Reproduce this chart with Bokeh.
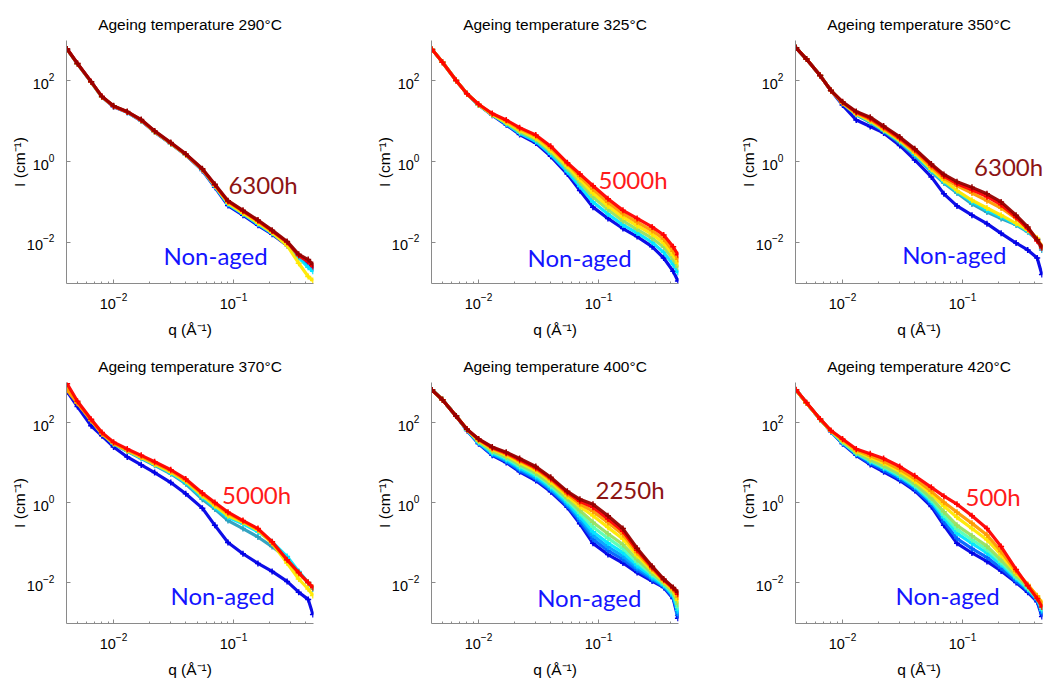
from bokeh.plotting import figure
from bokeh.models import Range1d, FixedTicker, Label
from bokeh.layouts import row, column
from bokeh.embed import file_html
from bokeh.resources import INLINE

# ---------------- data (log10 of I in cm^-1) ----------------
Q = [0.0041, 0.005, 0.0065, 0.008, 0.01, 0.013, 0.017, 0.022, 0.03, 0.04,
     0.055, 0.07, 0.09, 0.12, 0.16, 0.21, 0.28, 0.35, 0.42, 0.46]

# 290 C
T290_blue = [2.78, 2.42, 1.97, 1.60, 1.36, 1.22, 1.01, 0.73, 0.44, 0.16, -0.22, -0.64, -1.09, -1.33, -1.58, -1.80, -2.08, -2.36, -2.55, -2.65]
T290_cyan = [2.78, 2.42, 1.97, 1.60, 1.37, 1.22, 1.02, 0.74, 0.45, 0.17, -0.21, -0.62, -1.06, -1.30, -1.55, -1.78, -2.06, -2.38, -2.62, -2.72]
T290_yellow = [2.78, 2.42, 1.97, 1.60, 1.37, 1.23, 1.02, 0.74, 0.45, 0.17, -0.20, -0.60, -1.03, -1.28, -1.52, -1.76, -2.08, -2.52, -2.85, -2.95]
T290_red = [2.79, 2.43, 1.98, 1.61, 1.37, 1.23, 1.03, 0.75, 0.46, 0.18, -0.19, -0.58, -0.99, -1.23, -1.47, -1.72, -2.00, -2.33, -2.48, -2.60]
T290_darkred = [2.79, 2.43, 1.98, 1.61, 1.38, 1.24, 1.04, 0.76, 0.47, 0.19, -0.18, -0.56, -0.97, -1.21, -1.45, -1.70, -1.98, -2.30, -2.43, -2.55]

# 325 C
T325_blue = [2.78, 2.46, 2.01, 1.68, 1.40, 1.15, 0.91, 0.67, 0.46, 0.13, -0.31, -0.72, -1.13, -1.41, -1.66, -1.86, -2.11, -2.39, -2.72, -2.96]
T325_cyan = [2.78, 2.46, 2.01, 1.68, 1.40, 1.16, 0.93, 0.70, 0.50, 0.18, -0.25, -0.62, -1.00, -1.30, -1.57, -1.77, -2.00, -2.25, -2.55, -2.75]
T325_green = [2.78, 2.46, 2.01, 1.68, 1.41, 1.16, 0.96, 0.74, 0.55, 0.24, -0.17, -0.52, -0.88, -1.19, -1.47, -1.68, -1.90, -2.12, -2.42, -2.62]
T325_yellow = [2.78, 2.46, 2.01, 1.68, 1.41, 1.17, 0.98, 0.78, 0.59, 0.29, -0.11, -0.44, -0.78, -1.10, -1.38, -1.59, -1.80, -2.02, -2.32, -2.52]
T325_orange = [2.78, 2.46, 2.01, 1.68, 1.42, 1.18, 1.01, 0.81, 0.63, 0.34, -0.06, -0.37, -0.68, -1.01, -1.29, -1.50, -1.71, -1.92, -2.22, -2.42]
T325_red = [2.78, 2.46, 2.01, 1.68, 1.42, 1.19, 1.03, 0.84, 0.66, 0.38, -0.03, -0.31, -0.60, -0.92, -1.21, -1.41, -1.62, -1.82, -2.11, -2.31]

# 350 C
T350_blue = [2.82, 2.54, 2.13, 1.76, 1.40, 1.03, 0.87, 0.71, 0.40, 0.04, -0.38, -0.80, -1.10, -1.33, -1.54, -1.78, -2.02, -2.19, -2.39, -2.80]
T350_teal = [2.82, 2.54, 2.13, 1.76, 1.44, 1.16, 0.97, 0.75, 0.47, 0.14, -0.25, -0.53, -0.78, -1.05, -1.25, -1.41, -1.57, -1.74, -1.94, -2.19]
T350_cyan = [2.82, 2.54, 2.13, 1.76, 1.45, 1.17, 0.99, 0.77, 0.50, 0.18, -0.22, -0.50, -0.74, -1.00, -1.20, -1.37, -1.55, -1.72, -1.92, -2.15]
T350_yellow = [2.82, 2.54, 2.13, 1.76, 1.45, 1.18, 1.01, 0.79, 0.52, 0.21, -0.19, -0.47, -0.72, -0.96, -1.15, -1.33, -1.53, -1.70, -1.90, -2.11]
T350_orange = [2.82, 2.54, 2.13, 1.76, 1.46, 1.20, 1.04, 0.82, 0.55, 0.25, -0.14, -0.41, -0.60, -0.78, -0.97, -1.15, -1.41, -1.66, -1.92, -2.11]
T350_red = [2.82, 2.54, 2.13, 1.76, 1.47, 1.22, 1.07, 0.85, 0.58, 0.29, -0.09, -0.36, -0.55, -0.70, -0.87, -1.07, -1.38, -1.66, -1.97, -2.14]
T350_darkred = [2.82, 2.54, 2.13, 1.76, 1.48, 1.24, 1.10, 0.88, 0.61, 0.32, -0.06, -0.32, -0.50, -0.64, -0.80, -1.00, -1.33, -1.62, -1.94, -2.11]

# 370 C
T370_blue = [2.77, 2.40, 1.92, 1.67, 1.39, 1.14, 0.94, 0.75, 0.50, 0.22, -0.14, -0.57, -1.00, -1.28, -1.52, -1.72, -1.97, -2.24, -2.42, -2.80]
T370_teal = [2.85, 2.50, 2.05, 1.72, 1.46, 1.28, 1.10, 0.93, 0.72, 0.47, 0.08, -0.16, -0.45, -0.65, -0.86, -1.10, -1.39, -1.75, -2.00, -2.16]
T370_cyan = [2.85, 2.50, 2.06, 1.72, 1.47, 1.29, 1.12, 0.95, 0.74, 0.50, 0.13, -0.12, -0.37, -0.53, -0.73, -0.98, -1.35, -1.72, -2.00, -2.14]
T370_yellow = [2.85, 2.50, 2.06, 1.73, 1.48, 1.30, 1.13, 0.96, 0.76, 0.53, 0.17, -0.08, -0.33, -0.49, -0.69, -1.02, -1.51, -1.91, -2.16, -2.32]
T370_orange = [2.81, 2.48, 2.05, 1.72, 1.48, 1.31, 1.15, 0.99, 0.79, 0.56, 0.21, -0.03, -0.27, -0.47, -0.67, -1.00, -1.44, -1.77, -2.00, -2.12]
T370_red = [2.97, 2.53, 2.08, 1.75, 1.51, 1.34, 1.18, 1.02, 0.82, 0.59, 0.24, 0.00, -0.24, -0.45, -0.65, -0.98, -1.43, -1.75, -2.00, -2.12]

# 400 C
T400_blue = [2.81, 2.57, 2.16, 1.80, 1.47, 1.18, 1.00, 0.77, 0.55, 0.27, -0.12, -0.53, -1.02, -1.30, -1.51, -1.75, -1.96, -2.12, -2.40, -2.89]
T400_azure = [2.81, 2.57, 2.16, 1.81, 1.48, 1.20, 1.03, 0.80, 0.59, 0.31, -0.08, -0.47, -0.92, -1.20, -1.42, -1.69, -1.92, -2.10, -2.37, -2.82]
T400_deepsky = [2.81, 2.57, 2.16, 1.81, 1.49, 1.22, 1.05, 0.84, 0.62, 0.34, -0.04, -0.41, -0.82, -1.11, -1.34, -1.63, -1.89, -2.08, -2.34, -2.76]
T400_cyan = [2.81, 2.57, 2.16, 1.82, 1.51, 1.24, 1.08, 0.87, 0.66, 0.38, 0.00, -0.35, -0.73, -1.01, -1.25, -1.57, -1.85, -2.06, -2.32, -2.70]
T400_aqua = [2.81, 2.57, 2.16, 1.82, 1.52, 1.27, 1.11, 0.91, 0.70, 0.42, 0.05, -0.27, -0.61, -0.89, -1.15, -1.49, -1.80, -2.03, -2.28, -2.62]
T400_green = [2.81, 2.57, 2.16, 1.82, 1.53, 1.29, 1.14, 0.95, 0.74, 0.46, 0.10, -0.20, -0.49, -0.78, -1.05, -1.42, -1.76, -2.01, -2.25, -2.54]
T400_yellow = [2.81, 2.57, 2.16, 1.83, 1.55, 1.33, 1.18, 1.00, 0.80, 0.52, 0.16, -0.10, -0.33, -0.62, -0.91, -1.32, -1.70, -1.97, -2.20, -2.44]
T400_orange = [2.81, 2.57, 2.16, 1.83, 1.57, 1.35, 1.21, 1.04, 0.84, 0.57, 0.21, -0.03, -0.22, -0.50, -0.80, -1.25, -1.66, -1.95, -2.17, -2.36]
T400_red = [2.81, 2.57, 2.16, 1.83, 1.58, 1.37, 1.24, 1.07, 0.87, 0.60, 0.25, 0.03, -0.12, -0.41, -0.72, -1.19, -1.62, -1.93, -2.14, -2.29]
T400_darkred = [2.81, 2.57, 2.16, 1.83, 1.59, 1.39, 1.26, 1.10, 0.90, 0.63, 0.28, 0.08, -0.04, -0.33, -0.65, -1.14, -1.59, -1.91, -2.12, -2.24]

# 420 C
T420_blue = [2.81, 2.49, 2.08, 1.77, 1.47, 1.18, 0.95, 0.77, 0.55, 0.30, -0.10, -0.57, -1.02, -1.26, -1.47, -1.71, -2.00, -2.24, -2.48, -2.85]
T420_azure = [2.81, 2.49, 2.08, 1.78, 1.48, 1.20, 0.98, 0.81, 0.59, 0.34, -0.04, -0.48, -0.90, -1.15, -1.37, -1.64, -1.96, -2.20, -2.45, -2.78]
T420_cyan = [2.81, 2.49, 2.08, 1.78, 1.50, 1.22, 1.02, 0.86, 0.64, 0.40, 0.02, -0.38, -0.77, -1.02, -1.26, -1.55, -1.90, -2.16, -2.42, -2.70]
T420_aqua = [2.81, 2.49, 2.08, 1.78, 1.51, 1.24, 1.05, 0.89, 0.68, 0.43, 0.07, -0.31, -0.67, -0.93, -1.17, -1.49, -1.86, -2.14, -2.40, -2.65]
T420_green = [2.81, 2.49, 2.08, 1.79, 1.53, 1.25, 1.07, 0.92, 0.71, 0.47, 0.12, -0.23, -0.57, -0.83, -1.09, -1.43, -1.82, -2.10, -2.37, -2.58]
T420_yellow = [2.81, 2.49, 2.08, 1.79, 1.55, 1.29, 1.13, 0.99, 0.78, 0.54, 0.22, -0.09, -0.37, -0.65, -0.93, -1.31, -1.76, -2.06, -2.33, -2.50]
T420_orange = [2.81, 2.49, 2.08, 1.79, 1.57, 1.31, 1.17, 1.03, 0.83, 0.60, 0.28, 0.01, -0.24, -0.52, -0.81, -1.22, -1.72, -2.05, -2.34, -2.52]
T420_red = [2.82, 2.50, 2.09, 1.80, 1.59, 1.34, 1.22, 1.10, 0.90, 0.67, 0.38, 0.16, -0.04, -0.33, -0.65, -1.10, -1.67, -2.08, -2.40, -2.61]

TITLES = ["Ageing temperature 290°C", "Ageing temperature 325°C", "Ageing temperature 350°C",
          "Ageing temperature 370°C", "Ageing temperature 400°C", "Ageing temperature 420°C"]
END_LABELS = ["6300h", "5000h", "6300h", "5000h", "2250h", "500h"]

# ---------------- styles ----------------
C = {
    "blue": "#0000e6", "azure": "#0062ff", "deepsky": "#00a2ff", "teal": "#2a9fbf",
    "cyan": "#00e6ff", "aqua": "#55ffb5", "green": "#98e060", "yellow": "#ffe800",
    "orange": "#ff9a00", "red": "#ff0000", "darkred": "#960000",
}

PANEL_CURVES = [
    [("blue", T290_blue), ("cyan", T290_cyan), ("yellow", T290_yellow), ("red", T290_red), ("darkred", T290_darkred)],
    [("blue", T325_blue), ("cyan", T325_cyan), ("green", T325_green), ("yellow", T325_yellow), ("orange", T325_orange), ("red", T325_red)],
    [("blue", T350_blue), ("teal", T350_teal), ("cyan", T350_cyan), ("yellow", T350_yellow), ("orange", T350_orange), ("red", T350_red), ("darkred", T350_darkred)],
    [("blue", T370_blue), ("teal", T370_teal), ("cyan", T370_cyan), ("yellow", T370_yellow), ("orange", T370_orange), ("red", T370_red)],
    [("blue", T400_blue), ("azure", T400_azure), ("deepsky", T400_deepsky), ("cyan", T400_cyan), ("aqua", T400_aqua), ("green", T400_green), ("yellow", T400_yellow), ("orange", T400_orange), ("red", T400_red), ("darkred", T400_darkred)],
    [("blue", T420_blue), ("azure", T420_azure), ("cyan", T420_cyan), ("aqua", T420_aqua), ("green", T420_green), ("yellow", T420_yellow), ("orange", T420_orange), ("red", T420_red)],
]

END_COLORS = ["#8c1414", "#ff1a1a", "#8c1414", "#ff1a1a", "#8c1414", "#ff1a1a"]
END_POS = [(0.0908, 0.277), (0.100, 0.367), (0.125, 0.76), (0.0804, 1.6), (0.0944, 2.11), (0.106, 1.38)]
NA_POS = [(0.0261, 0.00457), (0.0256, 0.0041), (0.0314, 0.0049), (0.0298, 0.0048), (0.0308, 0.0043), (0.0276, 0.0048)]

X_MIN, X_MAX = 0.00405, 0.465
Y_MIN, Y_MAX = 9.5e-4, 1e3

FRAME_W, FRAME_H = 247, 246
# border left, right, top, bottom
GEOM = [
    (66, 54, 40, 54),
    (64, 53, 40, 54),
    (64, 2, 40, 54),
    (66, 54, 42, 52),
    (64, 53, 42, 52),
    (64, 2, 42, 52),
]

AX = "#8a8a8a"
FONT = "Liberation Sans"


def make_panel(i):
    bl, br, bt, bb = GEOM[i]
    p = figure(width=bl + FRAME_W + br, height=bt + FRAME_H + bb,
               x_axis_type="log", y_axis_type="log",
               x_range=Range1d(X_MIN, X_MAX), y_range=Range1d(Y_MIN, Y_MAX),
               output_backend="svg", toolbar_location=None, title=TITLES[i],
               min_border_left=bl, min_border_right=br, min_border_top=bt, min_border_bottom=bb)
    p.outline_line_color = None
    p.grid.visible = False
    p.background_fill_color = "white"
    p.border_fill_color = "white"
    p.title.align = "center"
    p.title.text_font = FONT
    p.title.text_font_size = "15.5px"
    p.title.text_font_style = "normal"
    p.title.text_color = "#000000"
    p.title.standoff = 16

    p.xaxis.ticker = FixedTicker(ticks=[0.01, 0.1],
                                 minor_ticks=[0.005, 0.006, 0.007, 0.008, 0.009,
                                              0.02, 0.03, 0.04, 0.05, 0.06, 0.07, 0.08, 0.09,
                                              0.2, 0.3, 0.4])
    p.yaxis.ticker = FixedTicker(ticks=[0.01, 1, 100], minor_ticks=[])
    for ax in (p.xaxis, p.yaxis):
        ax.axis_line_color = AX
        ax.axis_line_width = 1
        ax.major_tick_line_color = AX
        ax.minor_tick_line_color = AX
        ax.major_tick_in = 4
        ax.major_tick_out = 0
        ax.minor_tick_in = 2
        ax.minor_tick_out = 0
        ax.major_label_text_font = FONT
        ax.major_label_text_font_size = "14.5px"
        ax.major_label_text_color = "#000000"
        ax.axis_label_text_font = FONT
        ax.axis_label_text_font_size = "15.5px"
        ax.axis_label_text_font_style = "normal"
        ax.axis_label_text_color = "#000000"
    p.xaxis.axis_label = "q (Å⁻¹)"
    p.yaxis.axis_label = "I (cm⁻¹)"
    p.xaxis.major_label_standoff = 9
    p.xaxis.axis_label_standoff = 9
    p.yaxis.major_label_standoff = 12
    p.yaxis.axis_label_standoff = -4

    for cname, logs in PANEL_CURVES[i]:
        vals = [10 ** v for v in logs]
        p.line(Q, vals, line_color=C[cname], line_width=3.2, line_alpha=0.95)
        p.scatter(Q, vals, marker="cross", size=6, line_color=C[cname], line_width=1.5)

    ex, ey = END_POS[i]
    p.add_layout(Label(x=ex, y=ey, text=END_LABELS[i], text_color=END_COLORS[i],
                       text_font="Lato", text_font_size="24px",
                       text_baseline="middle", text_align="left"))
    nx, ny = NA_POS[i]
    p.add_layout(Label(x=nx, y=ny, text="Non-aged", text_color="#1414ff",
                       text_font="Lato", text_font_size="24px",
                       text_baseline="middle", text_align="left"))
    return p


figs = [make_panel(i) for i in range(6)]
layout = column(row(figs[0], figs[1], figs[2]), row(figs[3], figs[4], figs[5]))

open("out.html", "w").write(file_html(layout, INLINE))
